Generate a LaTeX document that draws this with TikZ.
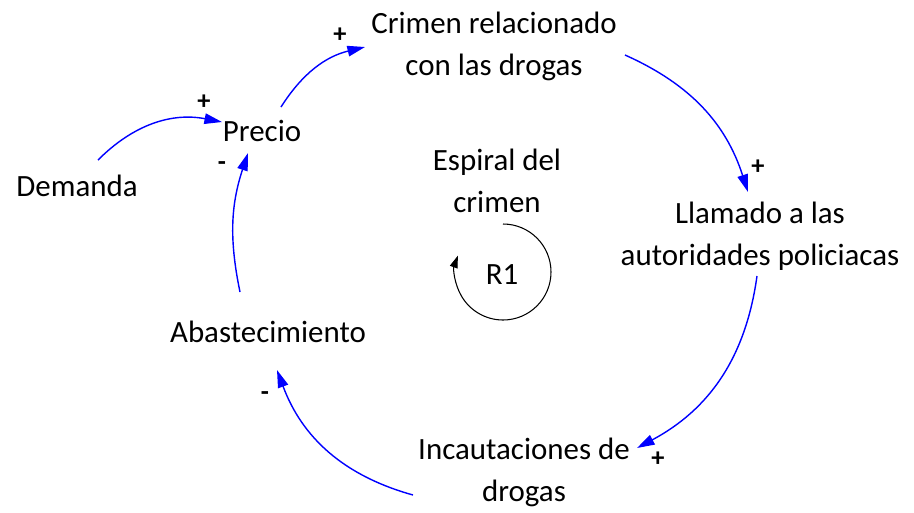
\documentclass[tikz,border=0pt]{standalone}
\usepackage{fontspec}
\setmainfont{Carlito}
\usetikzlibrary{arrows.meta,calc}
\begin{document}
\begin{tikzpicture}[x=0.02cm, y=0.02cm,
		var/.style={align=center, inner sep=0pt, font=\fontsize{17.6}{24}\selectfont},
		sgn/.style={inner sep=0pt, font=\fontsize{15}{15}\selectfont\bfseries},
		link/.style={draw=blue, line width=0.8pt, -{Triangle[length=10pt,width=6pt]}}]
	\useasboundingbox (0,0) rectangle (914,-512);
	% variables
	\node[var] (dem) at (77,-186) {Demanda};
	\node[var] (pre) at (262,-131) {Precio};
	\node[var] (cri) at (494,-46) {Crimen relacionado\\con las drogas};
	\node[var] (lla) at (760,-236) {Llamado a las\\autoridades policiacas};
	\node[var] (inc) at (524,-472) {Incautaciones de\\drogas};
	\node[var] (aba) at (268,-332) {Abastecimiento};
	\node[var] (esp) at (497,-181) {Espiral del\\crimen};
	\node[var] (r1) at (502,-275) {R1};
	% links
	\draw[link] ($(dem)+(21,26)$) to[bend left=28] ($(pre)+(-40,9)$);
	\draw[link] ($(pre)+(19,24)$) to[bend left=22] ($(cri)+(-129,-1)$);
	\draw[link] ($(cri)+(131,-9)$) to[bend left=24] ($(lla)+(-12,44)$);
	\draw[link] ($(lla)+(-3,-40)$) to[bend left=27] ($(inc)+(113,24)$);
	\draw[link] ($(inc)+(-111,-23)$) to[bend left=27] ($(aba)+(9,-38)$);
	\draw[link] ($(aba)+(-28,40)$) to[bend left=15] ($(pre)+(-14,-22)$);
	% polarities
	\node[sgn] (s1) at (204,-102) {+};
	\node[sgn] (s2) at (340,-35) {+};
	\node[sgn] (s3) at (758,-167) {+};
	\node[sgn] (s4) at (658,-459) {+};
	\node[sgn] (s5) at (265,-396) {-};
	\node[sgn] (s6) at (222,-166) {-};
	% loop
	\draw[line width=0.6pt, -{Triangle[length=7pt,width=4.5pt]}] ($(r1)+(1,51)$) arc[start angle=90, end angle=-200, radius=48];
\end{tikzpicture}
\end{document}
